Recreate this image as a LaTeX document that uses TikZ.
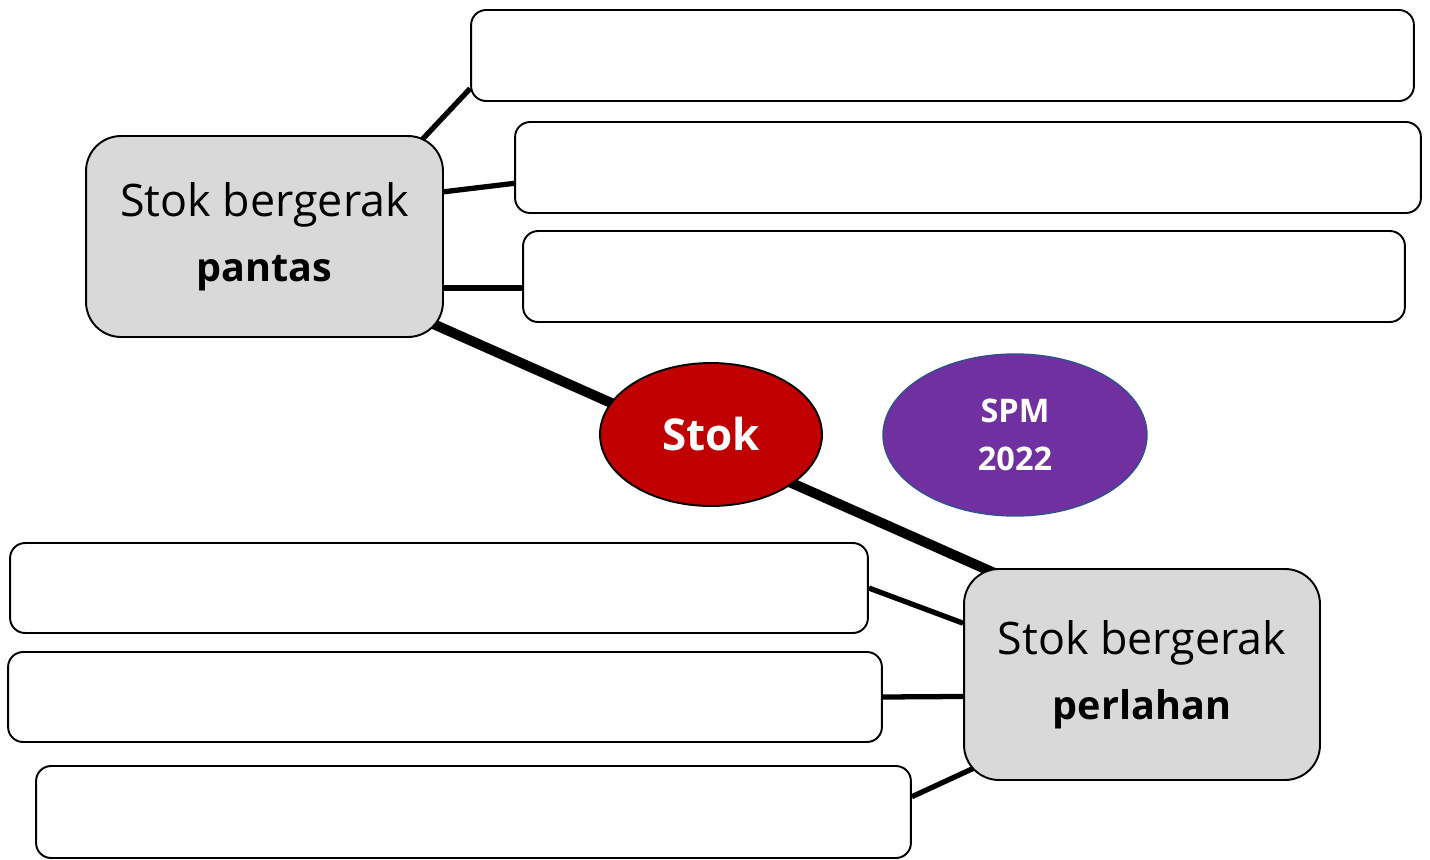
\documentclass[tikz,border=0pt]{standalone}
\usepackage{fontspec}
\setmainfont{Open Sans}
\usetikzlibrary{shapes.geometric,backgrounds}
\usepackage{xcolor}
\definecolor{hubgray}{HTML}{D9D9D9}
\definecolor{stokred}{HTML}{C00000}
\definecolor{spmpurple}{HTML}{7030A0}
\definecolor{spmedge}{HTML}{2F528F}
\newcommand{\hubbold}[1]{{\fontsize{22.5}{37}\selectfont\bfseries #1}}

\begin{document}
\begin{tikzpicture}[
            x=0.02cm, y=-0.02cm,
            box/.style={rectangle, draw, rounded corners=0.3cm, fill=white, line width=1.1pt, inner sep=0pt},
            hubbox/.style={rectangle, draw, rounded corners=0.7cm, fill=hubgray, line width=1.1pt, align=center, inner sep=0pt, font=\fontsize{25.5}{37}\selectfont},
            stokoval/.style={ellipse, draw, fill=stokred, line width=1.1pt, inner sep=0pt, text=white, font=\bfseries\fontsize{25}{30}\selectfont},
            spmoval/.style={ellipse, draw=spmedge, fill=spmpurple, line width=0.8pt, inner sep=0pt, align=center, text=white, font=\bfseries\fontsize{18.5}{27}\selectfont},
            link/.style={line width=3pt},
            mainlink/.style={line width=5.7pt}
        ]
            \useasboundingbox (0,0) rectangle (1430,859);

            % --- STOK BERGERAK PANTAS ---
            \node[hubbox, minimum width=7.14cm, minimum height=4.02cm] (pantas) at (264.5,236.5) {Stok bergerak\\\hubbold{pantas}};
            \node[box, minimum width=18.86cm, minimum height=1.82cm] (pantasA) at (942.5,55.5) {};
            \node[box, minimum width=18.12cm, minimum height=1.82cm] (pantasB) at (968,167.5) {};
            \node[box, minimum width=17.64cm, minimum height=1.82cm] (pantasC) at (964,276.5) {};

            % --- STOK (tengah) dan SPM ---
            \node[stokoval, minimum width=4.44cm, minimum height=2.86cm] (stok) at (711,434.5) {Stok};
            \node[spmoval, minimum width=5.28cm, minimum height=3.24cm] (spm) at (1015,435) {SPM\\2022};

            % --- STOK BERGERAK PERLAHAN ---
            \node[hubbox, minimum width=7.12cm, minimum height=4.22cm] (perlahan) at (1142,674.5) {Stok bergerak\\\hubbold{perlahan}};
            \node[box, minimum width=17.16cm, minimum height=1.80cm] (perlahanA) at (439,588) {};
            \node[box, minimum width=17.48cm, minimum height=1.80cm] (perlahanB) at (445,697) {};
            \node[box, minimum width=17.50cm, minimum height=1.84cm] (perlahanC) at (473.5,812) {};

            % Garis penghubung di belakang kotak
            \begin{scope}[on background layer]
                \draw[mainlink] ([shift={(-13,-15)}]pantas.south east) -- ([shift={(36,7)}]perlahan.north west);
                \draw[link] ([shift={(-7,7)}]pantas.32) -- (pantasA.184);
                \draw[link] (pantas.14) -- (pantasB.182);
                \draw[link] (pantas.-16) -- (pantas.-16 -| pantasC.west);
                \draw[link] (perlahan.164) -- (perlahanA.east);
                \draw[link] (perlahan.187) -- (perlahanB.east);
                \draw[link] ([shift={(16,-8)}]perlahan.209) -- (perlahanC.2);
            \end{scope}

        \end{tikzpicture}
\end{document}
